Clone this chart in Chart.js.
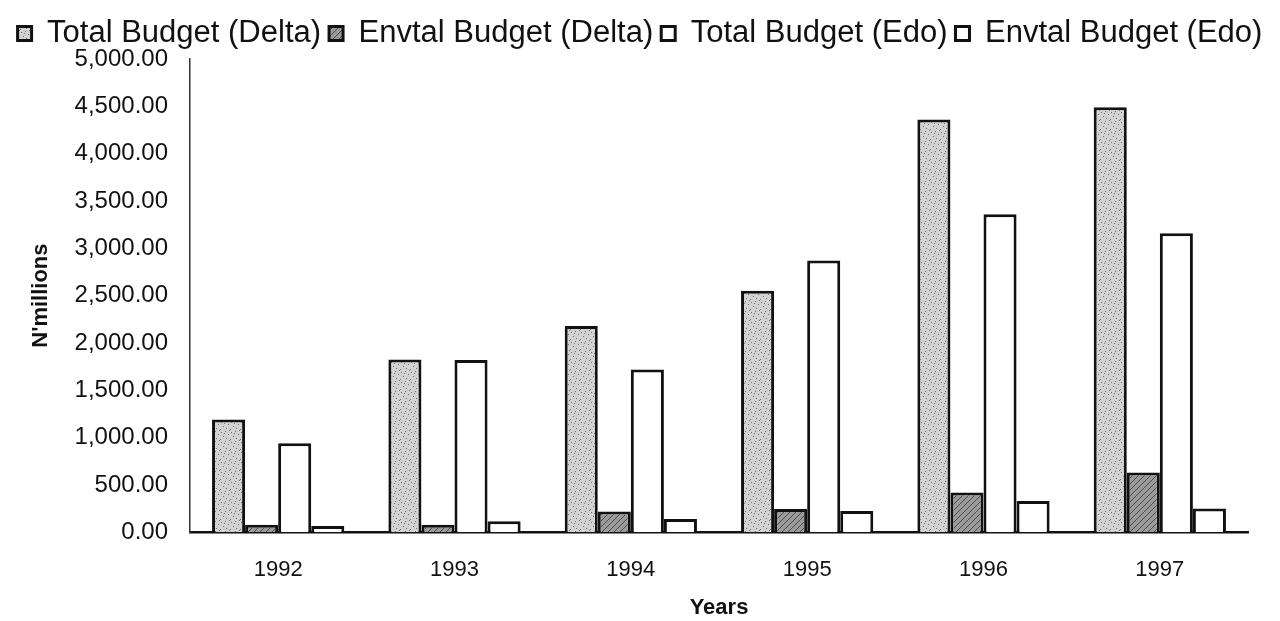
<!DOCTYPE html>
<html>
<head>
<meta charset="utf-8">
<script src="https://cdn.jsdelivr.net/npm/chart.js@4"></script>
<style>
  html, body { margin: 0; padding: 0; background: #ffffff; }
  #wrap { width: 1280px; height: 621px; position: relative; }
</style>
</head>
<body>
<div id="wrap"><canvas id="budgetChart"></canvas></div>
<script>
// Budgets in N'millions
const years = ['1992', '1993', '1994', '1995', '1996', '1997'];
const totalDelta = [1190, 1825, 2180, 2550, 4360, 4490];
const envtalDelta = [80, 80, 220, 245, 420, 630];
const totalEdo = [940, 1820, 1720, 2870, 3360, 3160];
const envtalEdo = [65, 115, 140, 225, 330, 250];
const seriesNames = ['Total Budget (Delta)', 'Envtal Budget (Delta)', 'Total Budget (Edo)', 'Envtal Budget (Edo)'];

document.addEventListener('DOMContentLoaded', function() {
    if (typeof Chart === 'undefined') {
        console.error('Chart.js is not loaded');
        return;
    }

    const fontFamily = 'Liberation Sans, Arial, sans-serif';

    // small tiles to imitate the printed shading
    function makeSpeckle(base, ink) {
        const c = document.createElement('canvas');
        c.width = 10; c.height = 10;
        const g = c.getContext('2d');
        g.fillStyle = base;
        g.fillRect(0, 0, 10, 10);
        g.fillStyle = ink;
        [[1, 2], [5, 1], [8, 4], [3, 6], [6, 8], [0, 9], [9, 0], [4, 3]].forEach(p => g.fillRect(p[0], p[1], 1, 1));
        return g.createPattern(c, 'repeat');
    }

    function makeHatch(base, ink) {
        const c = document.createElement('canvas');
        c.width = 6; c.height = 6;
        const g = c.getContext('2d');
        g.fillStyle = base;
        g.fillRect(0, 0, 6, 6);
        g.strokeStyle = ink;
        g.lineWidth = 1;
        g.beginPath();
        g.moveTo(0, 6); g.lineTo(6, 0);
        g.stroke();
        return g.createPattern(c, 'repeat');
    }

    const fills = [
        makeSpeckle('#d2d2d2', '#707070'),
        makeHatch('#9a9a9a', '#505050'),
        '#ffffff',
        '#ffffff'
    ];
    const values = [totalDelta, envtalDelta, totalEdo, envtalEdo];

    const datasets = seriesNames.map((name, i) => ({
        label: name,
        data: values[i],
        backgroundColor: fills[i],
        borderColor: '#111111',
        borderWidth: 3,
        borderSkipped: 'bottom',
        barPercentage: 1.0,
        categoryPercentage: 0.75
    }));

    const ctx = document.getElementById('budgetChart').getContext('2d');
    new Chart(ctx, {
        type: 'bar',
        data: { labels: years, datasets: datasets },
        options: {
            responsive: true,
            maintainAspectRatio: false,
            animation: false,
            layout: { padding: { left: 0, right: 0, top: 10, bottom: 0 } },
            plugins: {
                legend: {
                    position: 'top',
                    align: 'center',
                    labels: {
                        color: '#111111',
                        font: { family: fontFamily, size: 31 },
                        boxWidth: 14,
                        boxHeight: 14,
                        padding: 8
                    }
                },
                tooltip: { enabled: false }
            },
            scales: {
                x: {
                    grid: { display: false, drawTicks: false },
                    border: { display: true, color: '#111111', width: 2.5 },
                    ticks: {
                        color: '#111111',
                        padding: 25,
                        font: { family: fontFamily, size: 22 }
                    },
                    title: {
                        display: true,
                        text: 'Years',
                        color: '#111111',
                        padding: { top: -14, bottom: 0 },
                        font: { family: fontFamily, size: 22, weight: 'bold' }
                    }
                },
                y: {
                    min: 0,
                    max: 5000,
                    afterFit: function(scale) { scale.width = 190; },
                    grid: { display: false, drawTicks: false },
                    border: { display: true, color: '#333333', width: 1.5, dash: [7, 3] },
                    ticks: {
                        stepSize: 500,
                        color: '#111111',
                        padding: 22,
                        font: { family: fontFamily, size: 24 },
                        callback: function(v) {
                            return Number(v).toLocaleString('en-US', { minimumFractionDigits: 2, maximumFractionDigits: 2 });
                        }
                    },
                    title: {
                        display: true,
                        text: "N'millions",
                        color: '#111111',
                        padding: { top: 28, bottom: 0 },
                        font: { family: fontFamily, size: 22, weight: 'bold' }
                    }
                },
                // empty strip on the right so the legend can use the full width
                yRight: {
                    position: 'right',
                    min: 0,
                    max: 5000,
                    afterFit: function(scale) { scale.width = 32; },
                    grid: { display: false, drawTicks: false },
                    border: { display: false },
                    ticks: { display: false }
                }
            }
        }
    });
});
</script>
</body>
</html>
